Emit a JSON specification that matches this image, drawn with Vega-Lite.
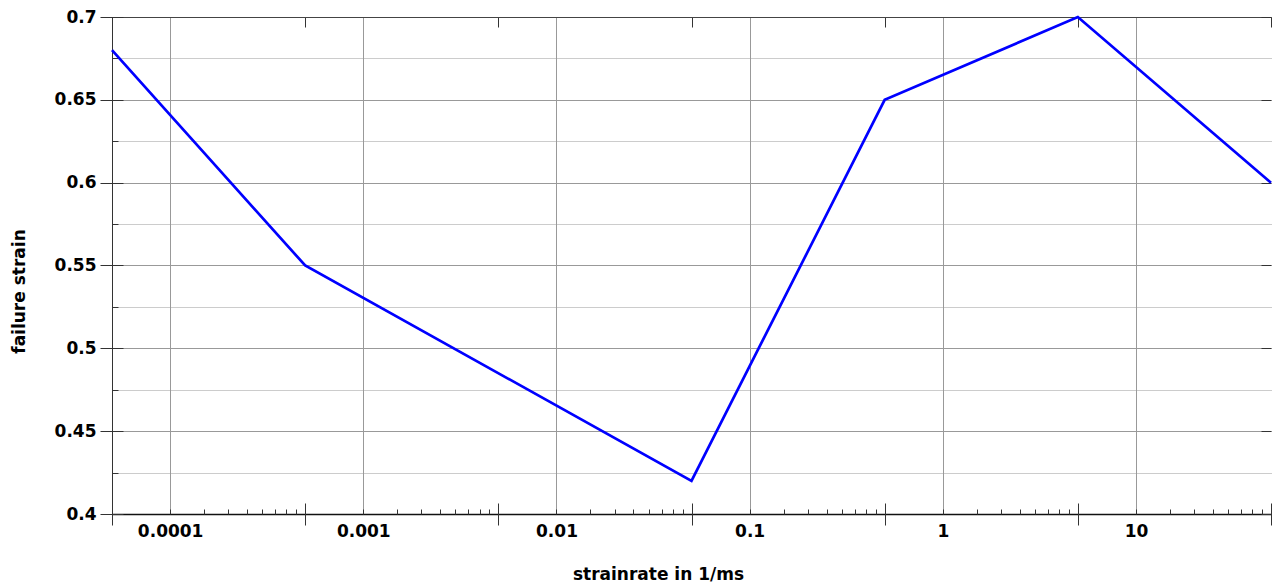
{
  "$schema": "https://vega.github.io/schema/vega-lite/v6.json",
  "width": 1159,
  "height": 497,
  "autosize": {"type": "none"},
  "padding": {"left": 112, "top": 17, "right": 1, "bottom": 71},
  "background": "white",
  "config": {
    "view": {"stroke": null},
    "axis": {
      "labelFont": "DejaVu Sans",
      "titleFont": "DejaVu Sans",
      "labelFontWeight": "bold",
      "titleFontWeight": "bold",
      "labelFontSize": 17,
      "titleFontSize": 17,
      "labelColor": "black",
      "titleColor": "black",
      "tickColor": "#333333",
      "tickWidth": 1,
      "domainColor": "#333333",
      "domainWidth": 1,
      "gridColor": "#999999",
      "gridWidth": 1,
      "gridOpacity": 1,
      "labelFlush": false,
      "labelOverlap": false
    }
  },
  "data": {
    "values": [
      {"strainrate": 0.00005, "failure": 0.68},
      {"strainrate": 0.0005, "failure": 0.55},
      {"strainrate": 0.05, "failure": 0.42},
      {"strainrate": 0.5, "failure": 0.65},
      {"strainrate": 5, "failure": 0.70},
      {"strainrate": 50, "failure": 0.60}
    ]
  },
  "resolve": {"axis": {"x": "independent", "y": "independent"}},
  "layer": [
    {
      "mark": {"type": "point", "opacity": 0},
      "encoding": {
        "x": {
          "field": "strainrate",
          "type": "quantitative",
          "scale": {"type": "log", "domain": [0.00005, 50], "nice": false},
          "axis": {
            "orient": "bottom",
            "values": [0.0001, 0.001, 0.01, 0.1, 1, 10],
            "format": "~g",
            "ticks": false,
            "labelPadding": 9,
            "grid": true,
            "domain": true,
            "domainColor": "#111111",
            "domainWidth": 1.5,
            "title": "strainrate in 1/ms",
            "titlePadding": 27,
            "titleX": 546,
            "titleAlign": "center"
          }
        },
        "y": {
          "field": "failure",
          "type": "quantitative",
          "scale": {"domain": [0.4, 0.7], "nice": false, "zero": false},
          "axis": {
            "orient": "left",
            "values": [0.4, 0.45, 0.5, 0.55, 0.6, 0.65, 0.7],
            "format": ".2~f",
            "ticks": false,
            "labelPadding": 16,
            "grid": true,
            "domain": true,
            "title": "failure strain",
            "titlePadding": 26,
            "titleY": 274,
            "titleAlign": "center"
          }
        }
      }
    },
    {
      "mark": {"type": "point", "opacity": 0},
      "encoding": {
        "x": {
          "field": "strainrate",
          "type": "quantitative",
          "axis": {
            "orient": "bottom",
            "values": [0.0001, 0.00015, 0.0002, 0.00025, 0.0003, 0.00035, 0.0004, 0.00045,
                       0.001, 0.0015, 0.002, 0.0025, 0.003, 0.0035, 0.004, 0.0045,
                       0.01, 0.015, 0.02, 0.025, 0.03, 0.035, 0.04, 0.045,
                       0.1, 0.15, 0.2, 0.25, 0.3, 0.35, 0.4, 0.45,
                       1, 1.5, 2, 2.5, 3, 3.5, 4, 4.5,
                       10, 15, 20, 25, 30, 35, 40, 45],
            "offset": -5,
            "tickSize": 5,
            "labels": false,
            "domain": false,
            "grid": false,
            "title": null
          }
        },
        "y": {
          "field": "failure",
          "type": "quantitative",
          "axis": {
            "orient": "left",
            "values": [0.4, 0.45, 0.5, 0.55, 0.6, 0.65, 0.7],
            "offset": -11,
            "tickSize": 23,
            "labels": false,
            "domain": false,
            "grid": false,
            "title": null
          }
        }
      }
    },
    {
      "mark": {"type": "point", "opacity": 0},
      "encoding": {
        "x": {
          "field": "strainrate",
          "type": "quantitative",
          "axis": {
            "orient": "bottom",
            "values": [0.00005, 0.0005, 0.005, 0.05, 0.5, 5, 50],
            "offset": -11,
            "tickSize": 22,
            "labels": false,
            "domain": false,
            "grid": false,
            "title": null
          }
        },
        "y": {
          "field": "failure",
          "type": "quantitative",
          "axis": {
            "orient": "left",
            "values": [0.425, 0.475, 0.525, 0.575, 0.625, 0.675],
            "offset": -6,
            "tickSize": 6,
            "labels": false,
            "domain": false,
            "grid": false,
            "title": null
          }
        }
      }
    },
    {
      "mark": {"type": "point", "opacity": 0},
      "encoding": {
        "x": {
          "field": "strainrate",
          "type": "quantitative",
          "axis": {
            "orient": "top",
            "values": [0.00005, 0.0005, 0.005, 0.05, 0.5, 5, 50],
            "offset": -10,
            "tickSize": 10,
            "labels": false,
            "domain": false,
            "grid": false,
            "title": null
          }
        },
        "y": {
          "field": "failure",
          "type": "quantitative",
          "axis": {
            "orient": "right",
            "values": [0.4, 0.45, 0.5, 0.55, 0.6, 0.65, 0.7],
            "offset": -10,
            "tickSize": 10,
            "labels": false,
            "domain": false,
            "grid": false,
            "title": null
          }
        }
      }
    },
    {
      "mark": {"type": "point", "opacity": 0},
      "encoding": {
        "x": {
          "field": "strainrate",
          "type": "quantitative",
          "axis": {
            "orient": "top",
            "ticks": false,
            "labels": false,
            "domain": true,
            "domainColor": "#444444",
            "grid": false,
            "title": null
          }
        },
        "y": {
          "field": "failure",
          "type": "quantitative",
          "axis": {
            "orient": "left",
            "values": [0.425, 0.475, 0.525, 0.575, 0.625, 0.675],
            "ticks": false,
            "labels": false,
            "domain": false,
            "grid": true,
            "gridColor": "#999999",
            "gridDash": [1, 1],
            "title": null
          }
        }
      }
    },
    {
      "mark": {"type": "line", "color": "#0000ff", "strokeWidth": 2.7},
      "encoding": {
        "x": {"field": "strainrate", "type": "quantitative", "axis": null},
        "y": {"field": "failure", "type": "quantitative", "axis": null}
      }
    }
  ]
}
